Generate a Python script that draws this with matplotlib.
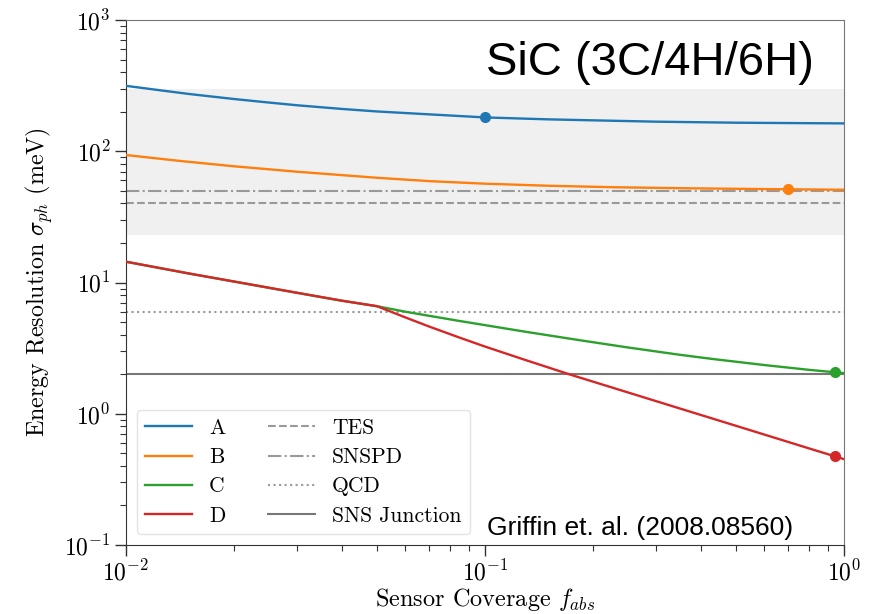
import matplotlib
matplotlib.use("Agg")
import matplotlib.pyplot as plt

plt.rcParams['font.family'] = 'serif'
plt.rcParams['font.serif'] = ['cmr10', 'DejaVu Serif']
plt.rcParams['mathtext.fontset'] = 'cm'
plt.rcParams['axes.formatter.use_mathtext'] = True

# ---- data ----
f_A = [0.01, 0.0125, 0.015, 0.02, 0.025, 0.03, 0.04, 0.05, 0.07, 0.1, 0.15, 0.2, 0.3, 0.5, 0.7, 1.0]
s_A = [315, 291, 273, 250, 235, 224, 210, 201, 191, 181, 175, 172, 168, 165, 164, 163]

f_B = [0.01, 0.014, 0.02, 0.03, 0.05, 0.07, 0.1, 0.15, 0.2275, 0.35, 0.5, 0.7, 1.0]
s_B = [93.6, 84.6, 76.8, 69.8, 62.8, 59.2, 56.6, 54.6, 53.2, 52.3, 51.75, 51.3, 50.9]

f_C = [0.01, 0.015, 0.02, 0.03, 0.04, 0.05, 0.06, 0.07, 0.085, 0.13, 0.184, 0.25, 0.35, 0.4325, 0.6, 0.8, 1.0]
s_C = [14.4, 11.7, 10.17, 8.34, 7.26, 6.6, 5.99, 5.57, 5.09, 4.21, 3.63, 3.20, 2.81, 2.61, 2.35, 2.16, 2.04]

f_D = [0.01, 0.015, 0.02, 0.03, 0.04, 0.05, 0.06, 0.07, 0.085, 0.1, 0.13, 0.1725, 0.25, 0.35, 0.4325, 0.6, 0.8, 1.0]
s_D = [14.4, 11.7, 10.17, 8.34, 7.26, 6.6, 5.42, 4.61, 3.80, 3.25, 2.56, 1.99, 1.454, 1.094, 0.915, 0.694, 0.544, 0.451]

series_names = ['A', 'B', 'C', 'D']
series_colors = ['#1f77b4', '#ff7f0e', '#2ca02c', '#d62728']

mark_f = [0.1, 0.7, 0.944, 0.944]
mark_s = [181, 51.3, 2.07, 0.473]

sensor_names = ['TES', 'SNSPD', 'QCD', 'SNS Junction']
sensor_levels = [40, 50, 6, 2]
sensor_styles = ['--', '-.', ':', '-']
sensor_colors = ['#999999', '#999999', '#999999', '#777777']

band_low, band_high = 23, 300

# ---- figure ----
fig = plt.figure(figsize=(8.77, 6.14), dpi=100)
ax = fig.add_axes([126/877, (614-545)/614, 718/877, 525/614])
ax.set_xscale('log')
ax.set_yscale('log')
ax.set_xlim(1e-2, 1)
ax.set_ylim(1e-1, 1e3)

ax.axhspan(band_low, band_high, color='#f0f0f0', zorder=0, lw=0)

handles = []
for f, s, name, c in zip([f_A, f_B, f_C, f_D], [s_A, s_B, s_C, s_D], series_names, series_colors):
    h, = ax.plot(f, s, color=c, lw=1.7, label=name, zorder=3)
    handles.append(h)
for mf, ms, c in zip(mark_f, mark_s, series_colors):
    ax.plot([mf], [ms], 'o', color=c, ms=7, zorder=4)

for name, lvl, ls, c in zip(sensor_names, sensor_levels, sensor_styles, sensor_colors):
    h = ax.axhline(lvl, color=c, ls=ls, lw=1.5, label=name, zorder=2)
    handles.append(h)

for sp in ['left', 'bottom']:
    ax.spines[sp].set_color('#333333')
for sp in ['top', 'right']:
    ax.spines[sp].set_color('#777777')

ax.tick_params(which='major', direction='out', length=8, width=1, labelsize=17, pad=3, color='#333333')
ax.tick_params(which='minor', direction='out', length=4, width=0.8, color='#333333')
ax.tick_params(top=False, right=False, which='both')

ax.set_xlabel(r'Sensor Coverage $f_{abs}$', fontsize=17.5, labelpad=0)
ax.set_ylabel(r'Energy Resolution $\sigma_{ph}$ (meV)', fontsize=17.3, labelpad=7)

leg = ax.legend(handles=handles, loc='lower left', ncol=2, fontsize=15.5,
                frameon=True, fancybox=True, framealpha=0.8, edgecolor='#dddddd',
                handlelength=2.15, handletextpad=0.8, columnspacing=2.0,
                borderaxespad=0.5, labelspacing=0.45)

ax.text(0.958, 0.895, 'SiC (3C/4H/6H)', transform=ax.transAxes, ha='right', va='baseline',
        fontsize=34, family='Liberation Sans')
ax.text(0.929, 0.019, 'Griffin et. al. (2008.08560)', transform=ax.transAxes, ha='right',
        va='baseline', fontsize=19, family='Liberation Sans')

fig.savefig('out.png', dpi=100)
